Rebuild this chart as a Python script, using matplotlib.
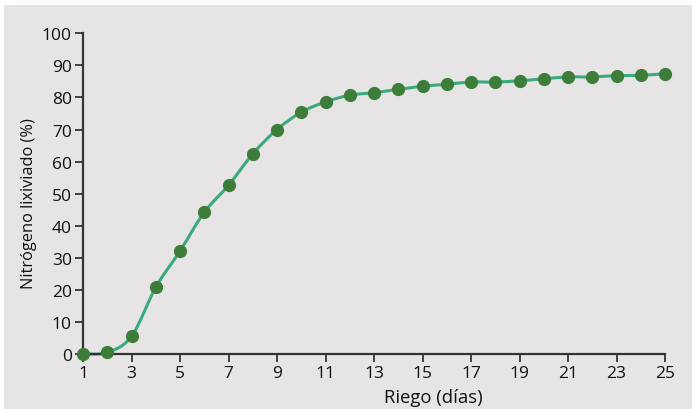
import matplotlib
matplotlib.use("Agg")
import matplotlib.pyplot as plt
from matplotlib.path import Path
from matplotlib.patches import PathPatch, Rectangle
import numpy as np

days = list(range(1, 26))
nitrogen = [0.0, 0.5, 5.5, 20.8, 32.1, 44.2, 52.6, 62.4, 70.0, 75.4, 78.6, 80.7, 81.5,
            82.5, 83.5, 84.1, 84.8, 84.8, 85.2, 85.8, 86.4, 86.4, 86.8, 86.9, 87.4]
xticks = list(range(1, 26, 2))
yticks = list(range(0, 101, 10))

plt.rcParams['font.family'] = ['Open Sans', 'DejaVu Sans']

bg = '#e6e4e5'
line_c = '#3aaa7d'
mark_c = '#3d7d3a'
ax_c = '#333333'

fig = plt.figure(figsize=(6.93, 4.10), dpi=100)
fig.patch.set_facecolor('white')
fig.patches.append(Rectangle((4/693, 0), 688/693, 404/410, transform=fig.transFigure,
                             facecolor=bg, edgecolor='none', zorder=-10))

ax = fig.add_axes([83/693, (410-355)/410, (665-83)/693, (355-34.3)/410])
ax.set_facecolor('none')

# smooth Catmull-Rom curve through data points as Bezier path
x = np.array(days, dtype=float)
y = np.array(nitrogen, dtype=float)
verts = [(x[0], y[0])]
codes = [Path.MOVETO]
n = len(x)
for i in range(n - 1):
    p0 = (x[i-1], y[i-1]) if i > 0 else (x[i], y[i])
    p1 = (x[i], y[i])
    p2 = (x[i+1], y[i+1])
    p3 = (x[i+2], y[i+2]) if i + 2 < n else (x[i+1], y[i+1])
    c1 = (p1[0] + (p2[0] - p0[0]) / 6, p1[1] + (p2[1] - p0[1]) / 6)
    c2 = (p2[0] - (p3[0] - p1[0]) / 6, p2[1] - (p3[1] - p1[1]) / 6)
    verts += [c1, c2, p2]
    codes += [Path.CURVE4] * 3
ax.add_patch(PathPatch(Path(verts, codes), facecolor='none', edgecolor=line_c,
                       linewidth=2.2, zorder=2, clip_on=False))
ax.plot(days, nitrogen, linestyle='none', marker='o', markersize=8.5,
        color=mark_c, zorder=3, clip_on=False)

ax.set_xlim(1, 25)
ax.set_ylim(0, 100)
ax.set_xticks(xticks)
ax.set_yticks(yticks)
for s in ['top', 'right']:
    ax.spines[s].set_visible(False)
for s in ['left', 'bottom']:
    ax.spines[s].set_color(ax_c)
    ax.spines[s].set_linewidth(1.6)
ax.tick_params(axis='both', direction='out', length=6, width=1.3, color=ax_c,
               labelsize=12.5, labelcolor='#111111', pad=2)
ax.set_xlabel('Riego (días)', fontsize=13.3, color='#111111')
ax.xaxis.set_label_coords((433.5 - 83) / 582, (355 - 398) / 320.7)
ax.xaxis.label.set_va('center')
ax.set_ylabel('Nitrógeno lixiviado (%)', fontsize=11.8, color='#111111')
ax.yaxis.set_label_coords((29 - 83) / 582, (355 - 204) / 320.7)
ax.yaxis.label.set_rotation_mode('default')
ax.yaxis.label.set_ha('center')
ax.yaxis.label.set_va('center')

fig.savefig('out.png', dpi=100, facecolor=fig.get_facecolor())
